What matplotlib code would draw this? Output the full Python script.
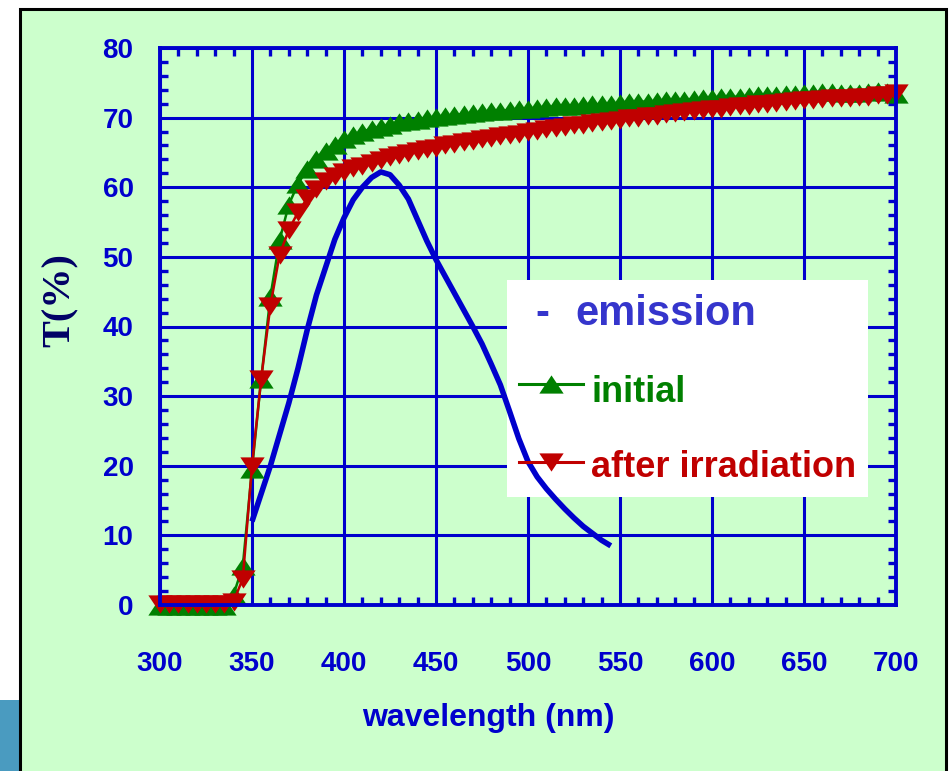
import matplotlib
matplotlib.use("Agg")
import matplotlib.pyplot as plt
from matplotlib.patches import Rectangle
from matplotlib.lines import Line2D
from matplotlib.ticker import MultipleLocator

# ===== DATA =====
wavelength = list(range(300, 705, 5))

initial = [
    -0.2, -0.2, -0.2, -0.2, -0.2, -0.2, -0.2, -0.2, 1.5, 5.6,
    19.5, 32.5, 44.3, 52.4, 57.5, 60.5, 62.6, 64.0, 65.2, 66.1,
    66.9, 67.5, 68.0, 68.4, 68.7, 69.0, 69.3, 69.5, 69.7, 69.9,
    70.1, 70.2, 70.4, 70.5, 70.6, 70.8, 70.9, 71.0, 71.1, 71.2,
    71.3, 71.4, 71.5, 71.6, 71.6, 71.7, 71.8, 71.9, 71.9, 72.0,
    72.1, 72.2, 72.3, 72.3, 72.4, 72.5, 72.5, 72.6, 72.7, 72.8,
    72.8, 72.9, 73.0, 73.0, 73.1, 73.2, 73.2, 73.3, 73.4, 73.4,
    73.5, 73.6, 73.7, 73.7, 73.6, 73.5, 73.6, 73.7, 73.8, 73.7,
    73.4,
]

after = [
    0.2, 0.2, 0.2, 0.2, 0.2, 0.2, 0.2, 0.2, 0.5, 3.8,
    20.0, 32.5, 43.0, 50.3, 53.9, 56.4, 58.4, 59.8, 60.9, 61.6,
    62.2, 62.7, 63.1, 63.5, 63.9, 64.3, 64.6, 64.9, 65.2, 65.5,
    65.7, 66.0, 66.2, 66.5, 66.7, 66.9, 67.1, 67.3, 67.5, 67.7,
    67.9, 68.1, 68.3, 68.5, 68.7, 68.9, 69.0, 69.2, 69.4, 69.5,
    69.7, 69.9, 70.0, 70.2, 70.3, 70.5, 70.6, 70.8, 70.9, 71.1,
    71.2, 71.3, 71.5, 71.6, 71.7, 71.9, 72.0, 72.1, 72.3, 72.4,
    72.5, 72.6, 72.7, 72.8, 72.8, 72.8, 72.9, 73.0, 73.2, 73.3,
    73.5,
]

em_wavelength = list(range(350, 550, 5))
emission = [
    12.0, 16.0, 20.0, 24.5, 29.0, 34.0, 39.5, 44.5, 48.5, 52.5,
    55.6, 58.2, 60.0, 61.4, 62.2, 61.8, 60.3, 58.3, 55.3, 52.3,
    49.6, 47.2, 44.8, 42.4, 40.0, 37.5, 34.6, 31.6, 27.8, 23.9,
    20.6, 18.4, 16.7, 15.2, 13.8, 12.5, 11.3, 10.3, 9.3, 8.5,
]

xticks = list(range(300, 750, 50))
yticks = list(range(0, 90, 10))

# ===== STYLE =====
BLUE = "#0000CC"
GREEN = "#008000"
RED = "#C00000"
BG = "#CCFFCC"
plt.rcParams["font.family"] = ["Liberation Sans", "DejaVu Sans"]

W, H = 949, 771
MS = 17.5


def fx(x):
    return x / W


def fy(y):
    return 1 - y / H


up = [(0, 0.75), (-1, -0.75), (1, -0.75)]
down = [(0, -0.75), (-1, 0.75), (1, 0.75)]

fig = plt.figure(figsize=(W / 100, H / 100), dpi=100, facecolor="white")

# slide frame
fig.add_artist(Rectangle((fx(0), fy(771)), fx(19), fy(700) - fy(771),
                         transform=fig.transFigure, facecolor="#4A9BC0",
                         edgecolor="none", zorder=-2))
fig.add_artist(Rectangle((fx(20), fy(780)), fx(926), fy(9) - fy(780),
                         transform=fig.transFigure, facecolor=BG,
                         edgecolor="black", linewidth=2.2, zorder=-1))

ax = fig.add_axes([fx(160), fy(605), fx(736), fy(48) - fy(605)])
ax.set_facecolor(BG)
ax.set_axisbelow(True)

ax.set_xlim(300, 700)
ax.set_ylim(0, 80)
ax.set_xticks(xticks)
ax.set_yticks(yticks)
ax.xaxis.set_minor_locator(MultipleLocator(10))
ax.yaxis.set_minor_locator(MultipleLocator(2))
ax.grid(True, which="major", color=BLUE, linewidth=2.2)

ax.tick_params(which="major", length=0, labelsize=20, labelcolor=BLUE)
ax.tick_params(axis="x", which="major", pad=33)
ax.tick_params(axis="y", which="major", pad=19)
ax.tick_params(which="minor", direction="in", length=5.5, width=2.4,
               color=BLUE, top=True, right=True)
for lab in ax.get_xticklabels() + ax.get_yticklabels():
    lab.set_fontweight("bold")
for sp in ax.spines.values():
    sp.set_color(BLUE)
    sp.set_linewidth(2.8)
    sp.set_zorder(6)

# legend box (behind the curves)
ax.add_patch(Rectangle(((507 - 160) / 736, (605 - 497) / 557),
                       (868 - 507) / 736, (497 - 280) / 557,
                       transform=ax.transAxes, facecolor="white",
                       edgecolor="none", zorder=1))

# ===== CURVES =====
ax.plot(em_wavelength, emission, color=BLUE, linewidth=4, zorder=3,
        solid_joinstyle="round", solid_capstyle="butt")
ax.plot(wavelength, initial, color=GREEN, linewidth=1.8, marker=up,
        markersize=MS, markeredgewidth=0, zorder=4, clip_on=False)
ax.plot(wavelength, after, color=RED, linewidth=1.8, marker=down,
        markersize=MS, markeredgewidth=0, zorder=5, clip_on=False)

# ===== LEGEND TEXT =====
fig.text(fx(535), fy(325), "-", color="#3535CC", fontsize=30,
         fontweight="bold", va="baseline")
fig.text(fx(575), fy(325), "emission", color="#3535CC", fontsize=30,
         fontweight="bold", va="baseline")
fig.add_artist(Line2D([fx(519), fx(583)], [fy(384), fy(384)],
                      transform=fig.transFigure, color=GREEN, linewidth=2.2))
fig.add_artist(Line2D([fx(551)], [fy(384)], transform=fig.transFigure,
                      color=GREEN, marker=up, markersize=MS,
                      markeredgewidth=0))
fig.text(fx(591), fy(402), "initial", color=GREEN, fontsize=26,
         fontweight="bold", va="baseline")
fig.add_artist(Line2D([fx(519), fx(583)], [fy(462), fy(462)],
                      transform=fig.transFigure, color=RED, linewidth=2.2))
fig.add_artist(Line2D([fx(551)], [fy(462)], transform=fig.transFigure,
                      color=RED, marker=down, markersize=MS,
                      markeredgewidth=0))
fig.text(fx(591), fy(477), "after irradiation", color=RED, fontsize=26,
         fontweight="bold", va="baseline")

# ===== AXIS LABELS =====
fig.text(fx(488), fy(718), "wavelength (nm)", color=BLUE, fontsize=23,
         fontweight="bold", ha="center", va="center")
fig.text(fx(60), fy(300), "T(%)", color="#000066", fontsize=29,
         fontweight="bold", family=["Liberation Serif", "DejaVu Serif"],
         rotation=90, ha="center", va="center")

fig.savefig("out.png", dpi=100, facecolor="white")
